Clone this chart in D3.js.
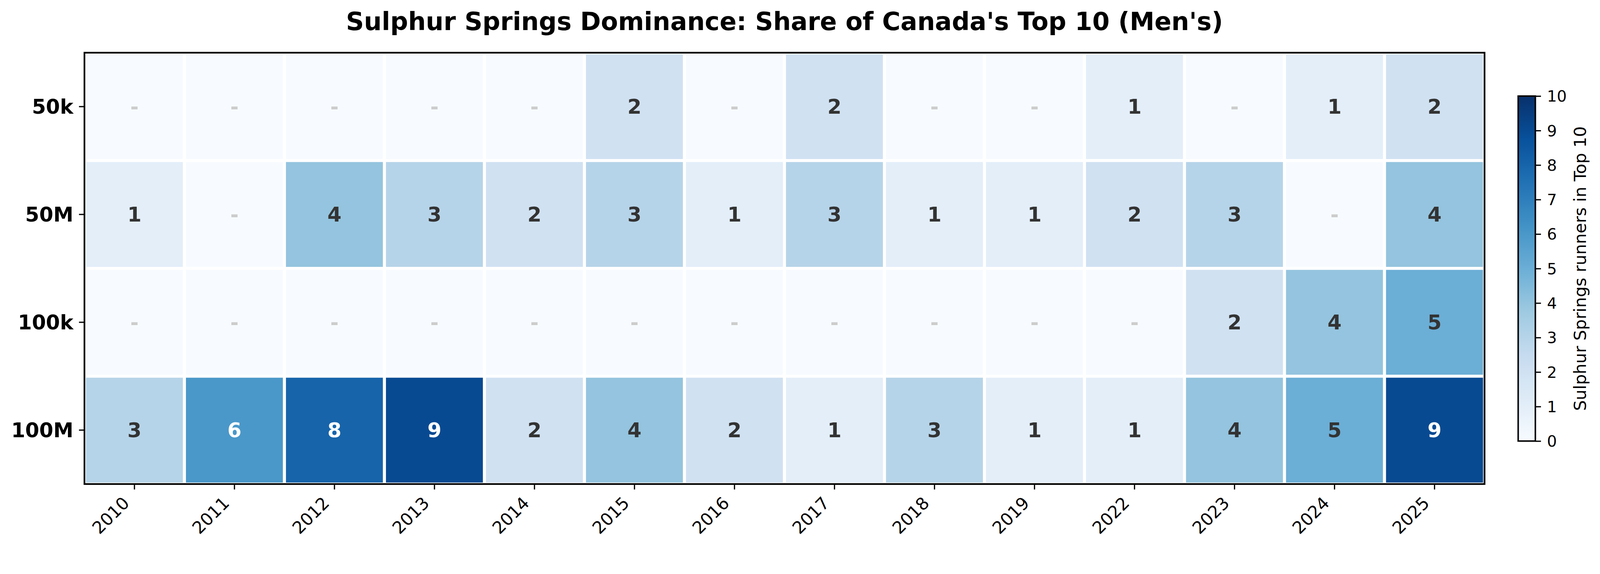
<!DOCTYPE html>
<html lang="en">
  <head>
    <meta charset="utf-8">
    <title>Sulphur Springs Dominance</title>
    <script src="https://cdn.jsdelivr.net/npm/d3@7"></script>
    <style>
      html, body { margin: 0; padding: 0; background: #fff; overflow: hidden; }
      svg { display: block; width: 100vw; height: 100vh; }
      svg text { font-family: "DejaVu Sans", sans-serif; }
    </style>
  </head>

  <body>
    <script type="text/javascript">

    // data (0 = no runner, shown as a dash)
    var years = ["2010", "2011", "2012", "2013", "2014", "2015", "2016",
                 "2017", "2018", "2019", "2022", "2023", "2024", "2025"];
    var races = ["50k", "50M", "100k", "100M"];
    var v50k  = [0, 0, 0, 0, 0, 2, 0, 2, 0, 0, 1, 0, 1, 2];
    var v50M  = [1, 0, 4, 3, 2, 3, 1, 3, 1, 1, 2, 3, 0, 4];
    var v100k = [0, 0, 0, 0, 0, 0, 0, 0, 0, 0, 0, 2, 4, 5];
    var v100M = [3, 6, 8, 9, 2, 4, 2, 1, 3, 1, 1, 4, 5, 9];
    var cbTicks = [0, 1, 2, 3, 4, 5, 6, 7, 8, 9, 10];

    var rowValues = [v50k, v50M, v100k, v100M];

    var W = 4282, H = 1469,
        plotL = 226, plotR = 3973, plotT = 141, plotB = 1295;

    // matplotlib "Blues" ramp, evenly spread over 0..10
    var blues = ["#f7fbff", "#deebf7", "#c6dbef", "#9ecae1", "#6baed6",
                 "#4292c6", "#2171b5", "#08519c", "#08306b"];
    var color = d3.scaleLinear()
        .domain(blues.map(function(d, i) { return i * 10 / (blues.length - 1); }))
        .range(blues)
        .interpolate(d3.interpolateRgb);

    var cells = [];
    races.forEach(function(r, i) {
      years.forEach(function(yr, j) {
        cells.push({race: r, year: yr, value: rowValues[i][j]});
      });
    });

    // viewBox so the whole chart fits whatever the viewport turns out to be
    var svg = d3.select("body").append("svg")
        .attr("viewBox", "0 0 " + W + " " + H)
        .attr("preserveAspectRatio", "xMinYMin meet");

    var x = d3.scaleBand().domain(years).range([plotL, plotR]);
    var y = d3.scaleBand().domain(races).range([plotT, plotB]);

    svg.append("text")
        .attr("x", (plotL + plotR) / 2)
        .attr("y", 80)
        .attr("text-anchor", "middle")
        .style("font-size", "66.7px")
        .style("font-weight", "bold")
        .text("Sulphur Springs Dominance: Share of Canada's Top 10 (Men's)");

    var cell = svg.append("g").selectAll("g")
        .data(cells)
      .enter().append("g");

    cell.append("rect")
        .attr("x", function(d) { return x(d.year); })
        .attr("y", function(d) { return y(d.race); })
        .attr("width", x.bandwidth())
        .attr("height", y.bandwidth())
        .attr("fill", function(d) { return color(d.value); })
        .attr("stroke", "#fff")
        .attr("stroke-width", 8);

    cell.append("text")
        .attr("x", function(d) { return x(d.year) + x.bandwidth() / 2; })
        .attr("y", function(d) { return y(d.race) + y.bandwidth() / 2; })
        .attr("text-anchor", "middle")
        .attr("dominant-baseline", "central")
        .style("font-size", "54px")
        .style("font-weight", "bold")
        .attr("fill", function(d) {
          if (d.value === 0) return "#cccccc";
          return d.value > 5 ? "#ffffff" : "#333333";
        })
        .text(function(d) { return d.value === 0 ? "-" : d.value; });

    // frame
    svg.append("rect")
        .attr("x", plotL)
        .attr("y", plotT)
        .attr("width", plotR - plotL)
        .attr("height", plotB - plotT)
        .attr("fill", "none")
        .attr("stroke", "#000")
        .attr("stroke-width", 4.5);

    var yAxis = svg.append("g")
        .attr("transform", "translate(" + plotL + ",0)")
        .call(d3.axisLeft(y).tickSize(14.6).tickPadding(15));
    yAxis.select(".domain").remove();
    yAxis.selectAll("line").attr("stroke-width", 3.3);
    yAxis.selectAll("text")
        .attr("dy", null)
        .attr("dominant-baseline", "central")
        .style("font-size", "54px")
        .style("font-weight", "bold")
        .attr("fill", "#000");

    var xAxis = svg.append("g")
        .attr("transform", "translate(0," + plotB + ")")
        .call(d3.axisBottom(x).tickSize(14.6));
    xAxis.select(".domain").remove();
    xAxis.selectAll("line").attr("stroke-width", 3.3);
    xAxis.selectAll("text")
        .attr("x", 0)
        .attr("y", 0)
        .attr("dy", null)
        .attr("text-anchor", "end")
        .attr("transform", "translate(-11,54) rotate(-45)")
        .style("font-size", "45.8px")
        .attr("fill", "#000");

    // colorbar
    var cbLeft = 4063, cbRight = 4109, cbTop = 257, cbBottom = 1180;
    var cbScale = d3.scaleLinear().domain([0, 10]).range([cbBottom, cbTop]);

    var grad = svg.append("defs").append("linearGradient")
        .attr("id", "cbgrad")
        .attr("x1", 0).attr("y1", 1)
        .attr("x2", 0).attr("y2", 0);
    grad.selectAll("stop")
        .data(d3.range(0, 10.01, 0.25))
      .enter().append("stop")
        .attr("offset", function(d) { return d / 10; })
        .attr("stop-color", function(d) { return color(d); });

    svg.append("rect")
        .attr("x", cbLeft)
        .attr("y", cbTop)
        .attr("width", cbRight - cbLeft)
        .attr("height", cbBottom - cbTop)
        .attr("fill", "url(#cbgrad)")
        .attr("stroke", "#000")
        .attr("stroke-width", 4);

    var cbAxis = svg.append("g")
        .attr("transform", "translate(" + cbRight + ",0)")
        .call(d3.axisRight(cbScale).tickValues(cbTicks).tickFormat(d3.format("d"))
          .tickSize(15).tickPadding(16));
    cbAxis.select(".domain").remove();
    cbAxis.selectAll("line").attr("stroke-width", 3.3);
    cbAxis.selectAll("text")
        .attr("dy", null)
        .attr("dominant-baseline", "central")
        .style("font-size", "41.7px")
        .attr("fill", "#000");

    svg.append("text")
        .attr("transform", "translate(4229," + (cbTop + cbBottom) / 2 + ") rotate(-90)")
        .attr("text-anchor", "middle")
        .attr("dominant-baseline", "central")
        .style("font-size", "45px")
        .text("Sulphur Springs runners in Top 10");

    </script>
  </body>
</html>
